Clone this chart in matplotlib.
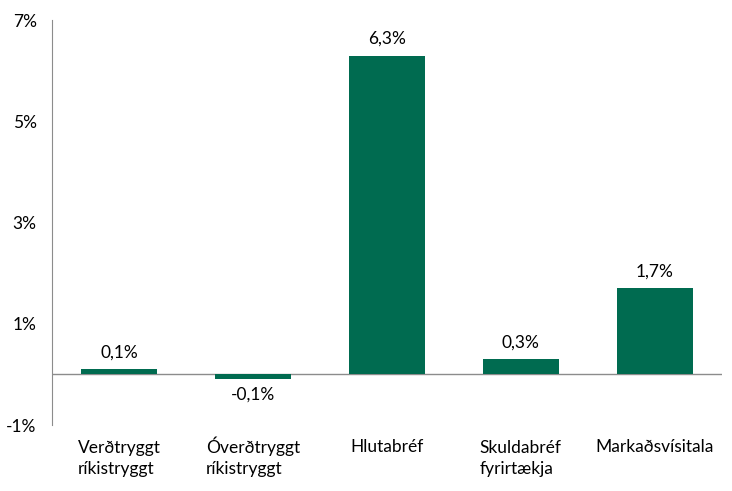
import numpy as np
import matplotlib.pyplot as plt

plt.rcParams['font.family'] = ['Lato', 'DejaVu Sans']

# Gögn
flokkar = ['Verðtryggt\nríkistryggt', 'Óverðtryggt\nríkistryggt', 'Hlutabréf',
           'Skuldabréf\nfyrirtækja', 'Markaðsvísitala']
gildi = [0.1, -0.1, 6.3, 0.3, 1.7]
yticks = [-1, 1, 3, 5, 7]

litur = '#006B50'
fs = 12.5

fig = plt.figure(figsize=(7.32, 4.91), dpi=100)
ax = fig.add_axes([0.071, 0.1344, 0.915, 0.8246])

x = np.arange(len(gildi))
ax.bar(x, gildi, width=0.57, color=litur, zorder=2)

for xi, v in zip(x, gildi):
    txt = f'{v:.1f}%'.replace('.', ',')
    if v >= 0:
        ax.text(xi, v + 0.17, txt, ha='center', va='bottom', fontsize=fs)
    else:
        ax.text(xi, v - 0.15, txt, ha='center', va='top', fontsize=fs)

ax.axhline(0, color='#8c8c8c', lw=1, zorder=1)
ax.set_xlim(-0.5, 4.5)
ax.set_ylim(-1, 7)
ax.set_yticks(yticks)
ax.set_yticklabels([f'{t}%' for t in yticks], fontsize=fs)
ax.tick_params(axis='y', length=0, pad=11)
ax.tick_params(axis='x', length=0)
ax.set_xticks([])

for s in ['top', 'right', 'bottom']:
    ax.spines[s].set_visible(False)
ax.spines['left'].set_color('#8c8c8c')

# baseline í matplotlib miðast við síðustu línu
for xi, lab in zip(x, flokkar):
    n = lab.count('\n')
    ax.text(xi, -1.54 - 0.42 * n, lab, ha='center', va='baseline',
            multialignment='left', fontsize=fs, linespacing=1.35)

fig.savefig('out.png', dpi=100)
